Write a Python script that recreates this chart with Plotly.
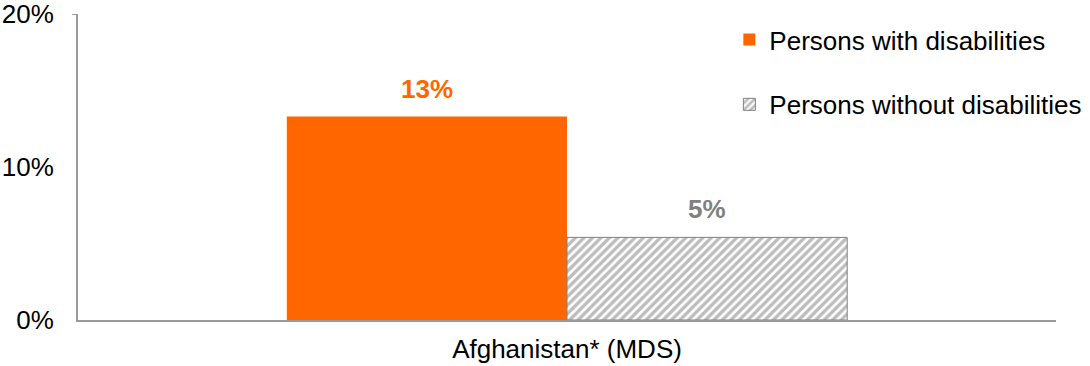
import plotly.graph_objects as go

categories = ["Afghanistan* (MDS)"]
series_names = ["Persons with disabilities", "Persons without disabilities"]
with_dis = [13.3]
without_dis = [5.4]
y_ticks = [0, 10, 20]
y_tick_labels = ["0%", "10%", "20%"]

ORANGE = "#FF6600"
GRAY = "#808080"
FONT = "Arial, Liberation Sans, sans-serif"
FS = 26

fig = go.Figure()
fig.add_trace(go.Bar(
    x=categories, y=with_dis, name=series_names[0], legendgroup="a",
    marker=dict(color=ORANGE, line=dict(width=0)),
))
fig.add_trace(go.Bar(
    x=categories, y=without_dis, name=series_names[1], legendgroup="b",
    marker=dict(color="white", line=dict(color=GRAY, width=1),
                pattern=dict(shape="/", fgcolor="#7a7a7a", bgcolor="white", size=6, solidity=0.55)),
))

for vals, color, shift in [(with_dis, ORANGE, -140), (without_dis, GRAY, 140)]:
    for c, v in zip(categories, vals):
        fig.add_annotation(x=c, y=v, xref="x", yref="y", text=f"<b>{round(v)}%</b>",
                           showarrow=False, yanchor="bottom", xshift=shift, yshift=11,
                           font=dict(family=FONT, size=FS, color=color))

fig.update_layout(
    width=1090, height=366,
    margin=dict(l=78, r=34, t=14, b=46, autoexpand=False),
    paper_bgcolor="white", plot_bgcolor="white",
    barmode="group", bargap=0.427, bargroupgap=0,
    font=dict(family=FONT, size=FS, color="black"),
    showlegend=True,
    legend=dict(x=0.666, y=0.993, xanchor="left", yanchor="top", tracegroupgap=28,
                font=dict(family=FONT, size=FS, color="black"), bgcolor="rgba(0,0,0,0)",
                itemwidth=30),
    xaxis=dict(showline=True, linecolor="#999999", linewidth=2, ticks="", showgrid=False,
               automargin=False, ticklabelstandoff=5,
               tickfont=dict(size=FS, family=FONT, color="black")),
    yaxis=dict(range=[0, 20], tickvals=y_ticks, ticktext=y_tick_labels, showgrid=False,
               showline=True, linecolor="#999999", linewidth=2, ticks="", zeroline=False,
               automargin=False, ticklabelstandoff=17, ticklabeloverflow="allow",
               tickfont=dict(size=FS, family=FONT, color="black")),
)
fig.add_shape(type="line", xref="paper", yref="y", x0=-0.006, x1=0, y0=20, y1=20,
              line=dict(color="#999999", width=2))

fig.write_html("out.html", config={"displayModeBar": False},
               post_script="document.body.style.margin='0';")
